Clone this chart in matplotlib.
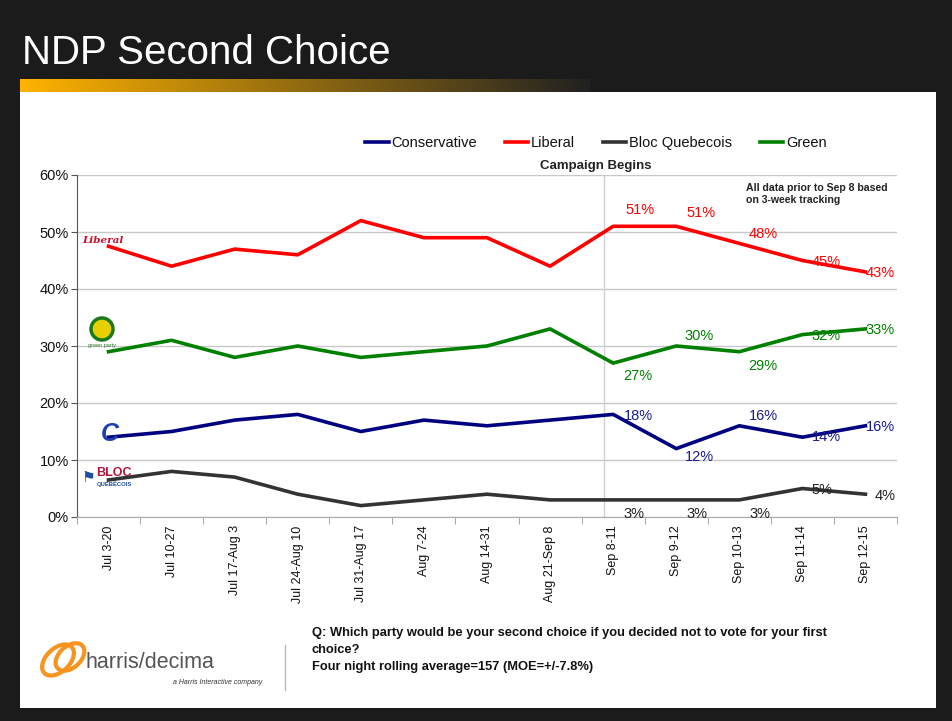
import numpy as np
import matplotlib.pyplot as plt
from matplotlib.patches import Rectangle, Ellipse

periods = ["Jul 3-20", "Jul 10-27", "Jul 17-Aug 3", "Jul 24-Aug 10", "Jul 31-Aug 17",
           "Aug 7-24", "Aug 14-31", "Aug 21-Sep 8", "Sep 8-11", "Sep 9-12",
           "Sep 10-13", "Sep 11-14", "Sep 12-15"]
conservative = [14, 15, 17, 18, 15, 17, 16, 17, 18, 12, 16, 14, 16]
liberal = [47.5, 44, 47, 46, 52, 49, 49, 44, 51, 51, 48, 45, 43]
bloc = [6.5, 8, 7, 4, 2, 3, 4, 3, 3, 3, 3, 5, 4]
green = [29, 31, 28, 30, 28, 29, 30, 33, 27, 30, 29, 32, 33]

# label offsets (pixels) for the labelled points, index 8..12
lab_idx = [8, 9, 10, 11, 12]
lib_off = [(27, 16), (25, 13), (24, 9), (24, -2), (15, -1)]
grn_off = [(25, -13), (23, 10), (24, -14), (24, -1), (15, -1)]
con_off = [(25, -2), (23, -8), (24, 10), (24, 0), (15, -1)]
blc_off = [(21, -14), (21, -14), (21, -14), (20, -1), (20, -2)]

W, H = 953, 721
fig = plt.figure(figsize=(W / 100, H / 100), dpi=100)
fig.patch.set_facecolor("#1b1b1b")
plt.rcParams['font.family'] = ['Liberation Sans', 'DejaVu Sans']

def px(x, y):
    return x / W, 1 - y / H

# white panel
fig.patches.append(Rectangle(px(20, 708), 916 / W, 616 / H, transform=fig.transFigure,
                             facecolor="white", edgecolor="none", zorder=-5))
# orange gradient bar
gax = fig.add_axes([20 / W, 1 - 92 / H, 570 / W, 13 / H])
grad = np.linspace(0, 1, 256)
cols = np.zeros((1, 256, 3))
c0 = np.array([1.0, 0.70, 0.0])
c1 = np.array([0.13, 0.13, 0.13])
for i, t in enumerate(grad):
    cols[0, i] = c0 * (1 - t) + c1 * t
gax.imshow(cols, aspect="auto")
gax.axis("off")

fig.text(22 / W, 1 - 53 / H, "NDP Second Choice", color="white", fontsize=29,
         va="center", ha="left")

ax = fig.add_axes([77 / W, 1 - 517 / H, 820 / W, 342 / H])
ax.set_facecolor("none")
x = np.arange(len(periods))
ax.plot(x, conservative, color="#000080", lw=2.6, label="Conservative")
ax.plot(x, liberal, color="#ff0000", lw=2.6, label="Liberal")
ax.plot(x, bloc, color="#333333", lw=2.6, label="Bloc Quebecois")
ax.plot(x, green, color="#008000", lw=2.6, label="Green")

ax.set_xlim(-0.5, len(periods) - 0.5)
ax.set_ylim(0, 60)
ax.set_yticks(range(0, 61, 10))
ax.set_yticklabels([f"{v}%" for v in range(0, 61, 10)], fontsize=10.5, color="#111111")
ax.yaxis.grid(True, color="#c8c8c8", lw=1)
ax.set_axisbelow(True)
ax.set_xticks(x)
ax.set_xticklabels(periods, rotation=90, fontsize=9, color="#111111")
ax.set_xticks(np.arange(-0.5, len(periods), 1), minor=True)
ax.tick_params(axis="x", which="major", length=0, pad=6)
ax.tick_params(axis="x", which="minor", length=5, color="#999999")
ax.tick_params(axis="y", length=4, color="#555555", pad=2)
for s in ["top", "right"]:
    ax.spines[s].set_visible(False)
ax.spines["left"].set_color("#555555")
ax.spines["bottom"].set_color("#aaaaaa")

ax.axvline(7.85, color="#d0d0d0", lw=1, zorder=0.5)
ax.text(7.72, 61.5, "Campaign Begins", ha="center", va="center", fontsize=9.5,
        fontweight="bold", color="#222222", clip_on=False)
ax.text(10.1, 58.6, "All data prior to Sep 8 based\non 3-week tracking", ha="left",
        va="top", fontsize=7.6, fontweight="bold", color="#222222", linespacing=1.25)

def put_labels(vals, offs, color):
    for i, (dx, dy) in zip(lab_idx, offs):
        ax.annotate(f"{vals[i]:.0f}%", (x[i], vals[i]), xytext=(dx, dy),
                    textcoords="offset pixels", ha="center", va="center",
                    fontsize=10.5, color=color)

put_labels(liberal, lib_off, "#ff0000")
put_labels(green, grn_off, "#008000")
put_labels(conservative, con_off, "#1a1a8c")
put_labels(bloc, blc_off, "#222222")

leg = ax.legend(loc="lower center", bbox_to_anchor=(0.633, 1.035), ncol=4, frameon=False,
                fontsize=10.5, handlelength=1.6, columnspacing=1.9, handletextpad=0.2)
for t in leg.get_texts():
    t.set_color("#111111")

# party logos (approximate)
fig.text(103 / W, 1 - 240 / H, "Liberal", color="#c8102e", fontsize=7.5, style="italic",
         fontweight="bold", family="DejaVu Serif", ha="center", va="center")
fig.patches.append(Ellipse(px(102, 329), 22 / W, 22 / H, transform=fig.transFigure,
                           facecolor="#e8d000", edgecolor="#1a7a1a", lw=2.5))
fig.text(102 / W, 1 - 346 / H, "green party", color="#2a7a2a", fontsize=4,
         ha="center", va="center")
fig.text(110 / W, 1 - 434 / H, "C", color="#1a3fb0", fontsize=18, fontweight="bold",
         style="italic", ha="center", va="center")
fig.text(88 / W, 1 - 477 / H, "\u2691", color="#1f4fa0", fontsize=11, ha="center", va="center",
         family="DejaVu Sans")
fig.text(114 / W, 1 - 473 / H, "BLOC", color="#b0143c", fontsize=9, fontweight="bold",
         ha="center", va="center")
fig.text(114 / W, 1 - 484 / H, "QUÉBÉCOIS", color="#1f4fa0", fontsize=4.2, fontweight="bold",
         ha="center", va="center")

# footer
fig.patches.append(Ellipse(px(58, 660), 26 / W, 34 / H, angle=-30, transform=fig.transFigure,
                           facecolor="none", edgecolor="#f7941d", lw=3))
fig.patches.append(Ellipse(px(70, 657), 24 / W, 30 / H, angle=-30, transform=fig.transFigure,
                           facecolor="none", edgecolor="#f7941d", lw=3))
fig.text(86 / W, 1 - 663 / H, "harris/decima", color="#555555", fontsize=15.5,
         ha="left", va="center")
fig.text(262 / W, 1 - 682 / H, "a Harris Interactive company", color="#333333", fontsize=5,
         style="italic", ha="right", va="center")
fig.add_artist(plt.Line2D([285 / W, 285 / W], [1 - 645 / H, 1 - 690 / H],
                          color="#bbbbbb", lw=1, transform=fig.transFigure))
fig.text(312 / W, 1 - 627 / H,
         "Q: Which party would be your second choice if you decided not to vote for your first\n"
         "choice?\nFour night rolling average=157 (MOE=+/-7.8%)",
         color="#111111", fontsize=9.3, fontweight="bold", ha="left", va="top",
         linespacing=1.58)

fig.savefig("out.png", dpi=100, facecolor=fig.get_facecolor())
